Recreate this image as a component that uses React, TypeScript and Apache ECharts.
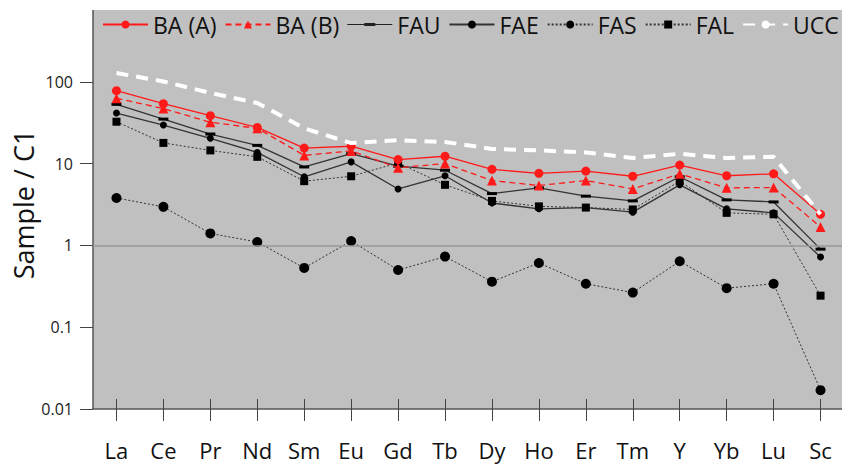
import React, { useEffect, useRef } from "react";
import * as echarts from "echarts";

const categories = ["La", "Ce", "Pr", "Nd", "Sm", "Eu", "Gd", "Tb", "Dy", "Ho", "Er", "Tm", "Y", "Yb", "Lu", "Sc"];
const baA = [78, 54, 38.5, 27.7, 15.5, 16.3, 11.2, 12.3, 8.5, 7.6, 8.1, 7.0, 9.6, 7.1, 7.5, 2.4];
const baB = [63, 47, 32, 27, 12.6, 14.3, 8.9, 10, 6.2, 5.4, 6.2, 4.9, 7.5, 5.05, 5.1, 1.68];
const fau = [53, 35, 23, 16.7, 9.1, 13.2, 9.3, 8.3, 4.3, 5.05, 4.0, 3.5, 6.9, 3.6, 3.4, 0.9];
const fae = [41.5, 29.6, 20.4, 13.7, 6.9, 10.5, 4.9, 7.1, 3.3, 2.8, 2.9, 2.55, 5.5, 2.8, 2.5, 0.72];
const fas = [3.8, 2.96, 1.4, 1.1, 0.53, 1.13, 0.5, 0.73, 0.36, 0.61, 0.34, 0.265, 0.64, 0.3, 0.34, 0.017];
const fal = [32.5, 17.9, 14.5, 12.1, 6.1, 7.0, 10.2, 5.5, 3.5, 3.0, 2.9, 2.75, 6.1, 2.5, 2.4, 0.243];
const ucc = [128, 101, 73, 55, 27, 17.8, 19.3, 18.4, 15.1, 14.5, 13.7, 11.7, 13.2, 11.7, 12.1, 2.4];
const yTickLabels: Record<string, string> = { "100": "100", "10": "10", "1": "1", "0.1": "0.1", "0.01": "0.01" };

const FONT = "'Open Sans', 'Noto Sans', sans-serif";
const RED = "#ff1a1a";
const DARK = "#333333";
const FAU_ICON =
  "path://M0,0L0.01,0L0.01,0.01Z M45,10L44.99,10L44.99,9.99Z M0,4.5L45,4.5L45,5.5L0,5.5Z M17,3.4L28,3.4L28,6.6L17,6.6Z";

export default function App() {
  const ref = useRef<HTMLDivElement>(null);
  useEffect(() => {
    if (!ref.current) return;
    const chart = echarts.init(ref.current, undefined, { renderer: "svg" });
    const option: any = {
      animation: false,
      backgroundColor: "#ffffff",
      textStyle: { fontFamily: FONT },
      grid: {
        left: 93,
        top: 0,
        width: 751,
        height: 409,
        show: true,
        backgroundColor: "#c0c0c0",
        borderWidth: 0,
        containLabel: false,
        outerBoundsMode: "none",
      },
      legend: {
        left: 97,
        top: 8,
        width: 1200,
        itemWidth: 45,
        itemHeight: 10,
        itemGap: 8,
        textStyle: { fontSize: 23, color: "#111", fontFamily: FONT },
        data: [
          "BA (A)",
          "BA (B)",
          { name: "FAU", icon: FAU_ICON, itemStyle: { color: "#222" } },
          "FAE",
          "FAS",
          "FAL",
          "UCC",
        ],
      },
      xAxis: [
        {
          type: "category",
          data: categories,
          position: "bottom",
          axisLine: { show: true, lineStyle: { color: "#555", width: 1.5 } },
          axisTick: { show: true, alignWithLabel: true, length: 12, inside: false, lineStyle: { color: "#444", width: 1 } },
          axisLabel: { fontSize: 22, color: "#111", margin: 30, fontFamily: FONT },
          splitLine: { show: false },
        },
        {
          type: "category",
          data: categories,
          position: "bottom",
          axisLine: { show: false },
          axisTick: { show: true, alignWithLabel: true, length: 10, inside: true, lineStyle: { color: "#444", width: 1 } },
          axisLabel: { show: false },
          splitLine: { show: false },
        },
      ],
      yAxis: {
        type: "log",
        logBase: 10,
        min: 0.01,
        max: 1000,
        name: "Sample / C1",
        nameLocation: "middle",
        nameGap: 56,
        nameMoveOverlap: false,
        nameTextStyle: { fontSize: 27, color: "#111", fontFamily: FONT },
        axisLine: { show: true, lineStyle: { color: "#555", width: 1.5 } },
        axisTick: { show: true, length: 13, lineStyle: { color: "#444", width: 1 } },
        axisLabel: {
          fontSize: 16,
          color: "#222",
          margin: 20,
          fontFamily: FONT,
          formatter: (v: number) => {
            const key = String(Number(v.toPrecision(3)));
            return yTickLabels[key] ?? "";
          },
        },
        splitLine: { show: false },
      },
      graphic: [
        {
          type: "rect",
          z: 3,
          shape: { x: 0, y: 0, width: 842, height: 10 },
          style: { fill: "#ffffff" },
        },
      ],
      series: [
        {
          name: "BA (A)",
          type: "line",
          data: baA,
          symbol: "circle",
          symbolSize: 9,
          itemStyle: { color: RED },
          lineStyle: { color: RED, width: 1.3 },
          z: 5,
          markLine: {
            silent: true,
            symbol: "none",
            label: { show: false },
            lineStyle: { color: "#999", width: 1.5, type: "solid" },
            data: [{ yAxis: 1 }],
          },
        },
        {
          name: "BA (B)",
          type: "line",
          data: baB,
          symbol: "triangle",
          symbolSize: 10,
          itemStyle: { color: RED },
          lineStyle: { color: RED, width: 1.3, type: [6, 4] },
          z: 5,
        },
        {
          name: "FAU",
          type: "line",
          data: fau,
          symbol: "rect",
          symbolSize: [10, 3],
          itemStyle: { color: "#000" },
          lineStyle: { color: DARK, width: 1.3 },
          z: 4,
        },
        {
          name: "FAE",
          type: "line",
          data: fae,
          symbol: "circle",
          symbolSize: 7,
          itemStyle: { color: "#000" },
          lineStyle: { color: DARK, width: 1.3 },
          z: 4,
        },
        {
          name: "FAS",
          type: "line",
          data: fas,
          symbol: "circle",
          symbolSize: 10,
          itemStyle: { color: "#000" },
          lineStyle: { color: DARK, width: 1, type: [2, 2] },
          z: 4,
        },
        {
          name: "FAL",
          type: "line",
          data: fal,
          symbol: "rect",
          symbolSize: 8,
          itemStyle: { color: "#000" },
          lineStyle: { color: DARK, width: 1, type: [2, 2] },
          z: 4,
        },
        {
          name: "UCC",
          type: "line",
          data: ucc,
          symbol: "none",
          itemStyle: { color: "#ffffff" },
          lineStyle: { color: "#ffffff", width: 4, type: [12, 8] },
          z: 6,
        },
      ],
    };
    chart.setOption(option);
    return () => chart.dispose();
  }, []);
  return (
    <div
      ref={ref}
      style={{ position: "fixed", left: 0, top: 0, width: 842, height: 467 }}
    />
  );
}
